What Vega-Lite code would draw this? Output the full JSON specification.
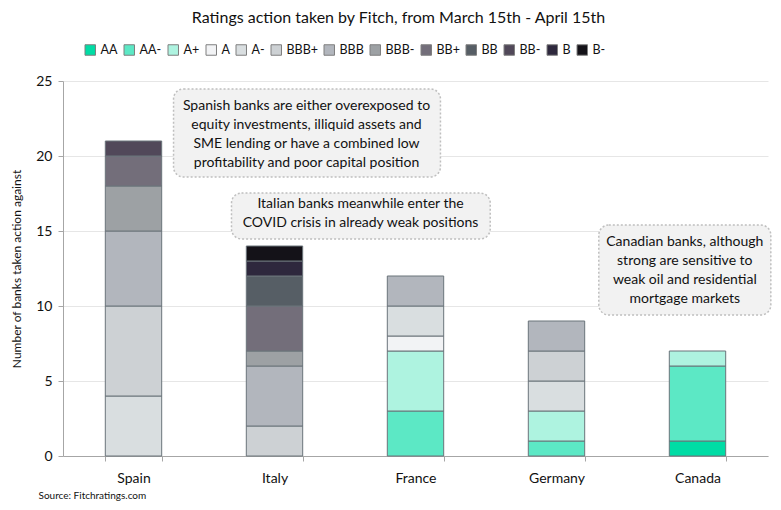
{
  "$schema": "https://vega.github.io/schema/vega-lite/v6.json",
  "width": 705,
  "height": 375,
  "padding": {"left": 10, "top": 10, "right": 5, "bottom": 5},
  "background": "white",
  "config": {
    "font": "Lato",
    "view": {"stroke": null},
    "axis": {"labelFont": "Lato", "titleFont": "Lato"},
    "legend": {"labelFont": "Lato"}
  },
  "title": {
    "text": "Ratings action taken by Fitch, from March 15th - April 15th",
    "fontSize": 16,
    "fontWeight": "normal",
    "color": "#111111",
    "anchor": "middle",
    "dx": -17,
    "offset": 17.5
  },
  "datasets": {
    "bars": [
      {"country": "Spain", "rating": "A-", "rank": 5, "count": 4},
      {"country": "Spain", "rating": "BBB+", "rank": 6, "count": 6},
      {"country": "Spain", "rating": "BBB", "rank": 7, "count": 5},
      {"country": "Spain", "rating": "BBB-", "rank": 8, "count": 3},
      {"country": "Spain", "rating": "BB+", "rank": 9, "count": 2},
      {"country": "Spain", "rating": "BB-", "rank": 11, "count": 1},
      {"country": "Italy", "rating": "BBB+", "rank": 6, "count": 2},
      {"country": "Italy", "rating": "BBB", "rank": 7, "count": 4},
      {"country": "Italy", "rating": "BBB-", "rank": 8, "count": 1},
      {"country": "Italy", "rating": "BB+", "rank": 9, "count": 3},
      {"country": "Italy", "rating": "BB", "rank": 10, "count": 2},
      {"country": "Italy", "rating": "B", "rank": 12, "count": 1},
      {"country": "Italy", "rating": "B-", "rank": 13, "count": 1},
      {"country": "France", "rating": "AA-", "rank": 2, "count": 3},
      {"country": "France", "rating": "A+", "rank": 3, "count": 4},
      {"country": "France", "rating": "A", "rank": 4, "count": 1},
      {"country": "France", "rating": "A-", "rank": 5, "count": 2},
      {"country": "France", "rating": "BBB", "rank": 7, "count": 2},
      {"country": "Germany", "rating": "AA-", "rank": 2, "count": 1},
      {"country": "Germany", "rating": "A+", "rank": 3, "count": 2},
      {"country": "Germany", "rating": "A-", "rank": 5, "count": 2},
      {"country": "Germany", "rating": "BBB+", "rank": 6, "count": 2},
      {"country": "Germany", "rating": "BBB", "rank": 7, "count": 2},
      {"country": "Canada", "rating": "AA", "rank": 1, "count": 1},
      {"country": "Canada", "rating": "AA-", "rank": 2, "count": 5},
      {"country": "Canada", "rating": "A+", "rank": 3, "count": 1}
    ],
    "notes": [
      {"note": "Spanish banks are either overexposed to\nequity investments, illiquid assets and\nSME lending or have a combined low\nprofitability and poor capital position", "x1": 0.784, "x2": 2.677, "y1": 18.6, "y2": 24.47, "xc": 1.727, "yc": 23.33},
      {"note": "Italian banks meanwhile enter the\nCOVID crisis in already weak positions", "x1": 1.195, "x2": 3.03, "y1": 14.47, "y2": 17.53, "xc": 2.11, "yc": 16.8},
      {"note": "Canadian banks, although\nstrong are sensitive to\nweak oil and residential\nmortgage markets", "x1": 3.8, "x2": 5.02, "y1": 9.4, "y2": 15.4, "xc": 4.41, "yc": 14.27}
    ]
  },
  "layer": [
    {
      "data": {"name": "bars"},
      "mark": {"type": "bar", "stroke": "#6b747b", "strokeWidth": 1},
      "encoding": {
        "x": {
          "field": "country",
          "type": "nominal",
          "sort": ["Spain", "Italy", "France", "Germany", "Canada"],
          "scale": {"paddingInner": 0.6, "paddingOuter": 0.3},
          "axis": {
            "title": "Source: Fitchratings.com",
            "titleFontSize": 10,
            "titleFontWeight": "normal",
            "titleColor": "#111111",
            "titleAnchor": "start",
            "titleAlign": "left",
            "titleX": -25,
            "titleY": 34,
            "labelAngle": 0,
            "labelFontSize": 14,
            "labelColor": "#111111",
            "labelPadding": 10,
            "domainColor": "#a6a6a6",
            "tickColor": "#a6a6a6",
            "tickBand": "extent",
            "tickSize": 5
          }
        },
        "y": {
          "field": "count",
          "type": "quantitative",
          "stack": "zero",
          "scale": {"domain": [0, 25], "nice": false},
          "axis": {
            "title": "Number of banks taken action against",
            "titleFontSize": 12,
            "titleFontWeight": "normal",
            "titleColor": "#111111",
            "titlePadding": 12,
            "values": [0, 5, 10, 15, 20, 25],
            "labelFontSize": 14,
            "labelColor": "#111111",
            "labelPadding": 6,
            "domainColor": "#a6a6a6",
            "tickColor": "#a6a6a6",
            "tickSize": 5,
            "gridColor": "#e6e6e6"
          }
        },
        "color": {
          "field": "rating",
          "type": "nominal",
          "scale": {
            "domain": ["AA", "AA-", "A+", "A", "A-", "BBB+", "BBB", "BBB-", "BB+", "BB", "BB-", "B", "B-"],
            "range": ["#00dca5", "#5ce8c5", "#aef3e0", "#f2f3f5", "#d9dee0", "#cdd1d4", "#b2b6bd", "#9da1a4", "#736e7a", "#565e65", "#514859", "#2e283d", "#141218"]
          },
          "legend": {
            "orient": "none",
            "legendX": 21,
            "legendY": -37.5,
            "direction": "horizontal",
            "columns": 13,
            "title": null,
            "symbolType": "square",
            "symbolSize": 110,
            "symbolStrokeColor": "#7f7f7f",
            "symbolStrokeWidth": 1,
            "labelFontSize": 12.5,
            "labelColor": "#111111",
            "columnPadding": 4
          }
        },
        "order": {"field": "rank", "type": "quantitative", "sort": "ascending"}
      }
    },
    {
      "data": {"name": "notes"},
      "mark": {"type": "rect", "cornerRadius": 10, "fill": "#f2f2f2", "stroke": "#bfbfbf", "strokeDash": [2, 2], "strokeWidth": 1.5},
      "encoding": {
        "x": {"field": "x1", "type": "quantitative", "scale": {"domain": [0, 5], "nice": false}, "axis": null},
        "x2": {"field": "x2"},
        "y": {"field": "y1", "type": "quantitative", "scale": {"domain": [0, 25], "nice": false}},
        "y2": {"field": "y2"}
      }
    },
    {
      "data": {"name": "notes"},
      "mark": {"type": "text", "fontSize": 14, "color": "#111111", "lineBreak": "\n", "lineHeight": 19, "baseline": "middle", "align": "center"},
      "encoding": {
        "x": {"field": "xc", "type": "quantitative", "scale": {"domain": [0, 5], "nice": false}, "axis": null},
        "y": {"field": "yc", "type": "quantitative", "scale": {"domain": [0, 25], "nice": false}},
        "text": {"field": "note"}
      }
    }
  ],
  "resolve": {"scale": {"x": "independent"}}
}
